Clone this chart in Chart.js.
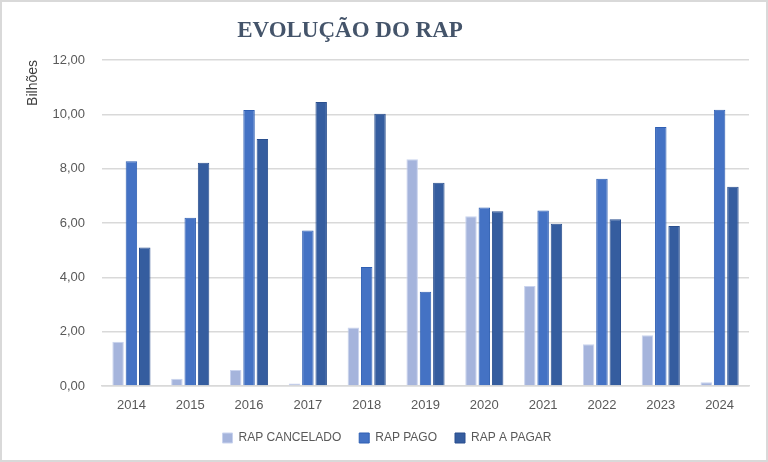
<!DOCTYPE html>
<html lang="pt">

<head>
    <meta charset="UTF-8">
    <title>Evolução do RAP</title>
    <style>
        html, body { margin: 0; padding: 0; background: #fff; }
        #wrap {
            width: 768px; height: 462px; box-sizing: border-box;
            border: 2px solid #d9d9d9; position: relative;
        }
    </style>
</head>

<body>
    <div id="wrap">
        <canvas id="myChart" width="764" height="458"></canvas>
    </div>

    <script src="https://cdn.jsdelivr.net/npm/chart.js"></script>
    <script>
        // values (bilhões)
        const years = ['2014', '2015', '2016', '2017', '2018', '2019', '2020', '2021', '2022', '2023', '2024'];
        const rapCancelado = [1.63, 0.27, 0.59, 0.09, 2.15, 8.35, 6.25, 3.68, 1.54, 1.87, 0.14];
        const rapPago = [8.27, 6.19, 10.16, 5.72, 4.38, 3.47, 6.57, 6.46, 7.63, 9.53, 10.17];
        const rapAPagar = [5.10, 8.22, 9.09, 10.45, 10.02, 7.48, 6.43, 5.97, 6.14, 5.89, 7.33];
        const yTicks = [0, 2, 4, 6, 8, 10, 12];

        const TICK_FONT = { family: "'Liberation Sans', Arial, sans-serif", size: 13 };

        // title sits left of centre in the original, so draw it ourselves
        const titlePlugin = {
            id: 'rapTitle',
            afterDraw(chart) {
                const ctx = chart.ctx;
                ctx.save();
                ctx.font = "bold 23px 'Liberation Serif', 'Times New Roman', serif";
                ctx.fillStyle = '#44546a';
                ctx.textAlign = 'center';
                ctx.textBaseline = 'middle';
                ctx.fillText('EVOLUÇÃO DO RAP', 348, 29);
                ctx.restore();
            }
        };

        const chartData = {
            labels: years,
            datasets: [
                {
                    label: 'RAP CANCELADO',
                    data: rapCancelado,
                    backgroundColor: '#a5b4dc',
                    borderColor: '#c9d3ee',
                    borderWidth: 1
                },
                {
                    label: 'RAP PAGO',
                    data: rapPago,
                    backgroundColor: '#4472c4',
                    borderColor: '#2f5fb3',
                    borderWidth: 1
                },
                {
                    label: 'RAP A PAGAR',
                    data: rapAPagar,
                    backgroundColor: '#355d9f',
                    borderColor: '#2a4f8e',
                    borderWidth: 1
                }
            ]
        };

        const chart = new Chart(document.getElementById('myChart'), {
            type: 'bar',
            data: chartData,
            plugins: [titlePlugin],
            options: {
                responsive: false,
                animation: false,
                datasets: {
                    bar: { categoryPercentage: 0.68, barPercentage: 0.86 }
                },
                layout: { padding: { left: 23, right: 17, top: 58, bottom: 6 } },
                plugins: {
                    title: { display: false },
                    tooltip: { enabled: false },
                    legend: {
                        position: 'bottom',
                        labels: {
                            boxWidth: 10, boxHeight: 10, padding: 18,
                            color: '#595959',
                            font: { family: TICK_FONT.family, size: 12 }
                        }
                    }
                },
                scales: {
                    x: {
                        grid: { display: false, drawTicks: false },
                        border: { color: '#d9d9d9', width: 1.5 },
                        ticks: { color: '#595959', font: TICK_FONT, padding: 12 },
                        afterFit(scale) { scale.height = 28; }
                    },
                    y: {
                        min: 0, max: 12,
                        afterBuildTicks(scale) { scale.ticks = yTicks.map(v => ({ value: v })); },
                        grid: { color: '#d9d9d9', lineWidth: 1.5, drawTicks: false },
                        border: { display: false },
                        ticks: {
                            color: '#595959', font: TICK_FONT, padding: 17,
                            callback: v => v.toFixed(2).replace('.', ',')
                        },
                        title: {
                            display: true, text: 'Bilhões', align: 'end',
                            color: '#404040', font: { family: TICK_FONT.family, size: 14 },
                            padding: { top: 0, bottom: 6 }
                        },
                        afterFit(scale) { scale.width = 77; }
                    }
                }
            }
        });
    </script>
</body>

</html>
